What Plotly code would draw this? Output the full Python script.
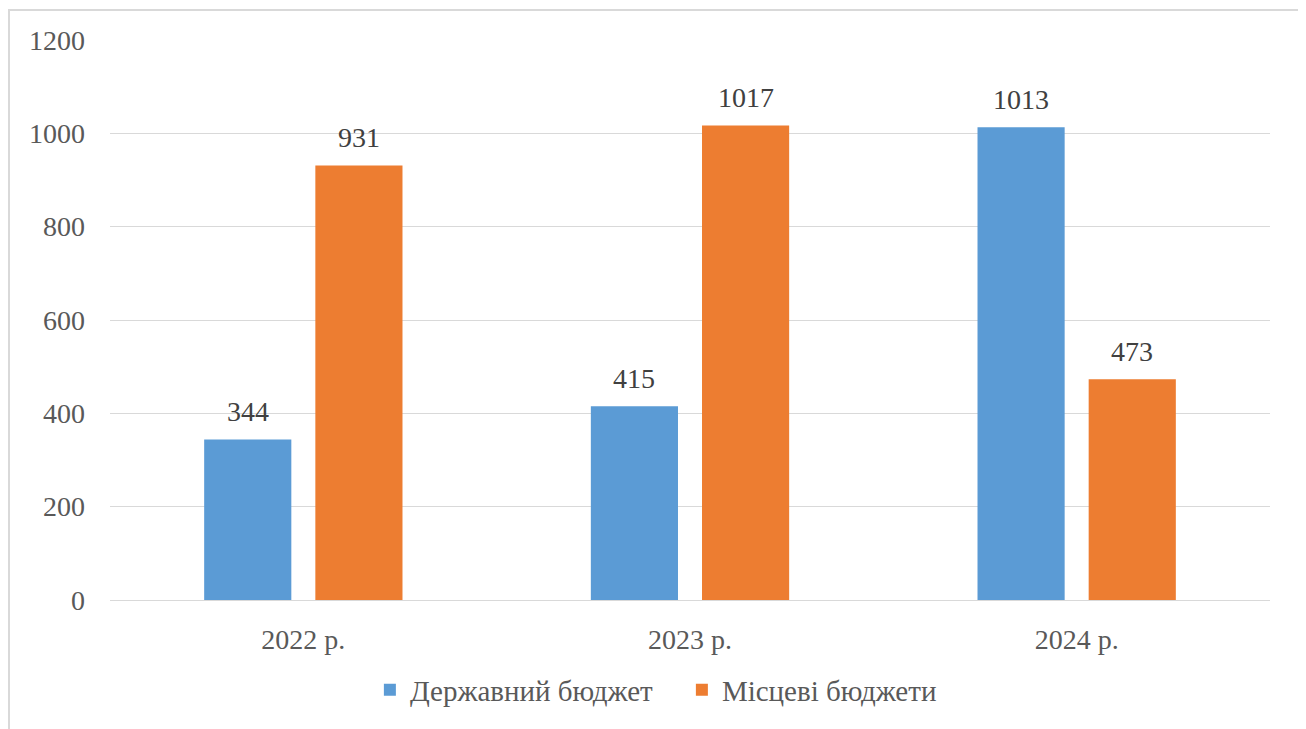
import plotly.graph_objects as go

categories = ["2022 р.", "2023 р.", "2024 р."]
state_budget = [344, 415, 1013]
local_budgets = [931, 1017, 473]
series_names = ["Державний бюджет", "Місцеві бюджети"]
colors = ["#5b9bd5", "#ed7d31"]
y_ticks = [0, 200, 400, 600, 800, 1000, 1200]

FONT = "Liberation Serif"
FS = 28

# figure-space geometry (page has 8px body margin)
L, T, W, H = 102, 32, 1160, 560
fig_w, fig_h = 1306, 729

fig = go.Figure()
series = [state_budget, local_budgets]
for name, vals, col in zip(series_names, series, colors):
    fig.add_trace(go.Bar(
        x=categories, y=vals, name=name,
        marker=dict(color=col, line=dict(width=0)),
    ))

bargap, bargroupgap = 0.425, 0.216
cat_w = W / len(categories)
slot = cat_w * (1 - bargap) / 2
annotations = []
for i, vals in enumerate(series):
    shift = (i - 0.5) * slot
    for c, v in zip(categories, vals):
        annotations.append(dict(x=c, y=v, text=str(v), showarrow=False,
                                xshift=shift, yshift=28, yanchor="middle",
                                font=dict(family=FONT, size=FS, color="#404040")))

fig.update_layout(
    width=fig_w, height=fig_h,
    margin=dict(l=L, r=fig_w - L - W, t=T, b=fig_h - T - H),
    paper_bgcolor="white", plot_bgcolor="white",
    barmode="group", bargap=bargap, bargroupgap=bargroupgap,
    font=dict(family=FONT, size=FS, color="#595959"),
    showlegend=True,
    legend=dict(orientation="h", x=0.493, xanchor="center", y=-90 / H, yanchor="middle",
                font=dict(family=FONT, size=29, color="#595959"),
                itemwidth=30, traceorder="normal", entrywidth=267),
    annotations=annotations,
    shapes=[dict(type="rect", xref="paper", yref="paper",
                 x0=(1 - L) / W, x1=(1292 - L) / W,
                 y0=-0.6, y1=1 + (T - 2) / H,
                 line=dict(color="#d9d9d9", width=2), fillcolor="rgba(0,0,0,0)",
                 layer="below")],
)
fig.update_xaxes(showgrid=False, showline=True, linecolor="#d9d9d9", linewidth=1,
                 tickfont=dict(family=FONT, size=FS, color="#595959"),
                 ticks="", ticklabelstandoff=14)
fig.update_yaxes(range=[0, 1200], tickvals=y_ticks, showgrid=True, gridcolor="#d9d9d9",
                 gridwidth=1, zeroline=False, showline=False,
                 tickfont=dict(family=FONT, size=FS, color="#595959"),
                 ticks="", ticklabelstandoff=24)

fig.write_html("out.html")
